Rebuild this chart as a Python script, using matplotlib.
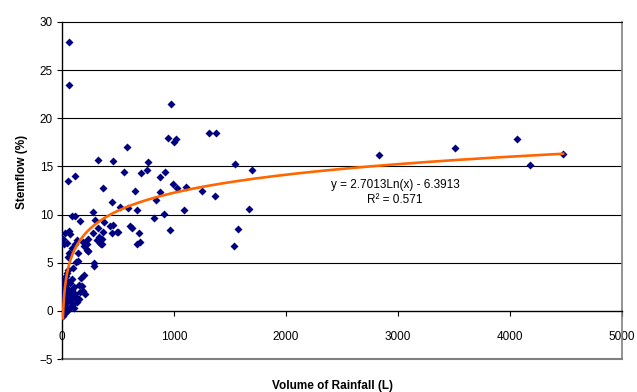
import numpy as np
import matplotlib
matplotlib.use("Agg")
import matplotlib.pyplot as plt

plt.rcParams['font.family'] = ['Liberation Sans', 'DejaVu Sans']

# volume of rainfall (L) and stemflow (%)
rain = [60, 60, 975, 1313, 1375, 950, 997, 1018, 580, 768, 324, 453, 1545, 756, 1694,
        708, 875, 917, 556, 54, 119, 994, 1030, 1107, 1250, 369, 652, 875, 839, 1369,
        444, 518, 592, 667, 1092, 1667, 280, 911, 819, 964, 1575, 1539,
        2834, 3513, 4063, 4182, 4474,
        116, 89, 161, 295, 375, 27, 42, 12, 131, 205, 146, 220, 280, 324, 369, 354,
        429, 444, 489, 458, 339, 354, 607, 685, 672, 699, 622, 503, 223, 196, 235,
        60, 74, 20, 56, 140, 101, 286, 286, 65, 125, 229, 199, 170, 181, 155, 203,
        190, 134, 86, 116, 313, 333, 348, 235, 185,
        8, 12, 15, 20, 25, 30, 35, 40, 45, 50, 55, 60, 65, 70, 75, 80, 90, 95, 100,
        110, 120, 130, 10, 18, 28, 38, 48, 58, 14, 22, 33, 42, 52, 62, 72, 85, 105,
        115, 150, 160, 16, 26, 36]
stemflow = [27.9, 23.5, 21.5, 18.5, 18.5, 18.0, 17.5, 17.8, 17.0, 15.5, 15.7, 15.6, 15.3, 14.6, 14.6,
            14.3, 13.9, 14.4, 14.4, 13.5, 14.0, 13.2, 12.8, 12.9, 12.5, 12.8, 12.4, 12.3, 11.5, 11.9,
            11.3, 10.8, 10.7, 10.5, 10.5, 10.6, 10.3, 10.1, 9.6, 8.4, 8.5, 6.7,
            16.2, 16.9, 17.9, 15.2, 16.3,
            9.8, 9.9, 9.3, 9.4, 9.2, 8.1, 7.0, 7.5, 7.4, 7.0, 6.0, 6.3, 8.1, 8.6, 8.2, 7.5,
            8.8, 8.1, 8.2, 8.9, 7.0, 6.9, 8.8, 8.1, 6.9, 7.1, 8.6, 8.2, 6.9, 6.7, 6.2,
            8.3, 8.0, 6.9, 5.6, 5.2, 4.5, 5.0, 4.7, 6.0, 5.1, 6.2, 3.7, 3.4, 2.6, 2.7, 1.8,
            2.1, 1.1, 6.5, 6.9, 7.4, 7.7, 6.9, 7.5, 7.1,
            -0.5, 0.2, 0.8, 1.3, -0.2, 0.5, 1.8, 2.4, 0.1, 1.0, 3.0, 1.6, 2.2, 0.4, 2.9, 1.2, 3.3, 0.7, 1.9,
            2.5, 1.5, 0.9, 2.8, 3.2, 2.6, 3.6, 3.9, 4.2, 1.7, 2.1, -0.1, 1.4, 2.0, 0.2, 1.1, 2.2, 0.3,
            1.7, 1.2, 2.0, 0.5, 1.0, 0.9]

# logarithmic trendline as printed on the chart
slope = 2.7013
intercept = -6.3913
r2 = 0.571

fig = plt.figure(figsize=(6.37, 3.92), dpi=100)
ax = fig.add_axes([62/637, 33/392, 560/637, 337/392])

for yv in [5, 10, 15, 20, 25]:
    ax.axhline(yv, color="black", lw=0.8, zorder=1)

ax.plot(rain, stemflow, "D", ms=4.3, color="#000080", mec="none", zorder=3)

tx = np.linspace(min(rain), max(rain), 2000)
ax.plot(tx, slope * np.log(tx) + intercept, "-", color="#FF6600", lw=1.9, zorder=4)

ax.text(2973, 12.3, "y = %.4fLn(x) - %.4f\nR² = %.3f" % (slope, -intercept, r2),
        ha="center", va="center", fontsize=8.5, linespacing=1.35, zorder=5)

ax.set_xlim(0, 5000)
ax.set_ylim(-5, 30)
ax.set_xticks(range(0, 5001, 1000))
ax.set_yticks(range(-5, 31, 5))

ax.spines["left"].set_position(("data", 0))
ax.spines["bottom"].set_position(("data", 0))
ax.spines["left"].set_linewidth(1)
ax.spines["bottom"].set_linewidth(1)
ax.spines["top"].set_color("black")
ax.spines["top"].set_linewidth(0.8)
ax.spines["right"].set_color("#808080")
ax.spines["right"].set_linewidth(1.2)
ax.axhline(-5, color="#808080", lw=1.5, clip_on=False, zorder=2)

ax.tick_params(axis="both", direction="out", length=3.5, width=0.8, labelsize=8.5)
ax.tick_params(axis="x", pad=11)
ax.tick_params(axis="y", pad=3)

fig.text(333/637, 1 - 386/392, "Volume of Rainfall (L)", ha="center", va="center",
         fontsize=8.5, fontweight="bold")
fig.text(22/637, 1 - 171.5/392, "Stemflow (%)", ha="center", va="center",
         rotation=90, fontsize=8.5, fontweight="bold")

fig.savefig("out.png", dpi=100)
